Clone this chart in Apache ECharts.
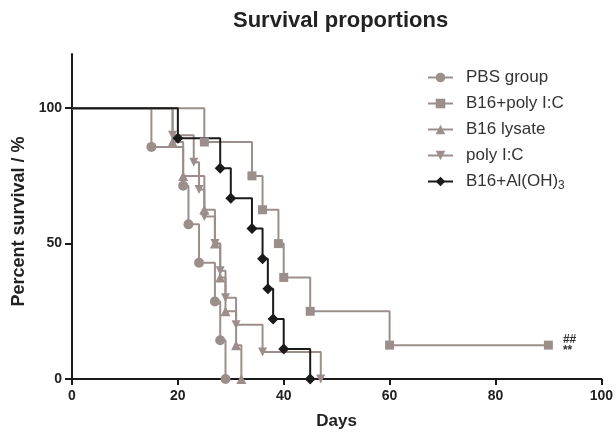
<!DOCTYPE html>
<html>
<head>
<meta charset="utf-8">
<script src="https://cdn.jsdelivr.net/npm/echarts@6/dist/echarts.min.js"></script>
<style>
html, body { margin: 0; padding: 0; background: #fff; }
#chart { width: 616px; height: 435px; }
</style>
</head>
<body>
<div id="chart"></div>
<script>
// Kaplan-Meier steps (day, % surviving)
const pbsDays = [0, 15, 21, 22, 24, 27, 28, 29];
const pbsSurvival = [100, 85.7, 71.4, 57.1, 42.9, 28.6, 14.3, 0];
const b16PolyDays = [0, 25, 34, 36, 39, 40, 45, 60, 90];
const b16PolySurvival = [100, 87.5, 75, 62.5, 50, 37.5, 25, 12.5, 12.5];
const lysateDays = [0, 19, 21, 25, 27, 28, 29, 31, 32];
const lysateSurvival = [100, 87.5, 75, 62.5, 50, 37.5, 25, 12.5, 0];
const polyDays = [0, 19, 23, 24, 25, 27, 28, 29, 31, 36, 47];
const polySurvival = [100, 90, 80, 70, 60, 50, 40, 30, 20, 10, 0];
const alumDays = [0, 20, 28, 30, 34, 36, 37, 38, 40, 45];
const alumSurvival = [100, 88.9, 77.8, 66.7, 55.6, 44.4, 33.3, 22.2, 11.1, 0];

const groupNames = ['PBS group', 'B16+poly I:C', 'B16 lysate', 'poly I:C', 'B16+Al(OH)3'];
const yTicks = [0, 50, 100];

const gray = '#9c8f8b';
const dark = '#1a1a1a';

function kmData(days, vals) {
    return days.map((d, i) => i === 0 ? { value: [d, vals[i]], symbol: 'none' } : [d, vals[i]]);
}

function kmSeries(name, days, vals, symbol, size, color) {
    return {
        name: name,
        type: 'line',
        step: 'end',
        data: kmData(days, vals),
        symbol: symbol,
        symbolSize: size,
        showAllSymbol: true,
        lineStyle: { color: color, width: 2 },
        itemStyle: { color: color },
        emphasis: { disabled: true }
    };
}

const b16Poly = kmSeries(groupNames[1], b16PolyDays, b16PolySurvival, 'rect', 9, gray);
// censored end point gets the significance marks
const last = b16Poly.data.length - 1;
b16Poly.data[last] = {
    value: b16Poly.data[last],
    label: {
        show: true,
        position: 'right',
        distance: 10,
        formatter: '##\n**',
        color: '#333',
        fontSize: 12,
        fontWeight: 'bold',
        lineHeight: 11
    }
};

const chart = echarts.init(document.getElementById('chart'));
chart.setOption({
    animation: false,
    title: {
        text: 'Survival proportions',
        left: 228,
        top: 5,
        textStyle: { fontFamily: 'Liberation Sans', fontSize: 22, fontWeight: 'bold', color: '#222' }
    },
    legend: {
        orient: 'vertical',
        left: 422,
        top: 64,
        itemWidth: 25,
        itemHeight: 12,
        itemGap: 9,
        data: groupNames,
        formatter: name => name === 'B16+Al(OH)3' ? 'B16+Al(OH){sub|3}' : name,
        textStyle: {
            fontFamily: 'Liberation Sans',
            fontSize: 17,
            color: '#333',
            padding: [0, 0, 0, 8],
            rich: { sub: { fontFamily: 'Liberation Sans', fontSize: 12, color: '#333', padding: [8, 0, 0, 0] } }
        }
    },
    grid: { left: 72, right: 13, top: 54, bottom: 52 },
    xAxis: {
        type: 'value',
        min: 0,
        max: 100,
        interval: 20,
        name: 'Days',
        nameLocation: 'middle',
        nameGap: 34,
        nameTextStyle: { fontFamily: 'Liberation Sans', fontSize: 17, fontWeight: 'bold', color: '#222' },
        axisLine: { lineStyle: { color: dark, width: 2 } },
        axisTick: { length: 6, lineStyle: { color: dark, width: 2 } },
        axisLabel: { margin: 10, fontFamily: 'Liberation Sans', fontSize: 14, fontWeight: 'bold', color: '#222' },
        splitLine: { show: false }
    },
    yAxis: {
        type: 'value',
        min: 0,
        max: 120,
        name: 'Percent survival / %',
        nameLocation: 'middle',
        nameGap: 44,
        nameTextStyle: { fontFamily: 'Liberation Sans', fontSize: 18, fontWeight: 'bold', color: '#222', padding: [0, 10, 0, 0] },
        axisLine: { show: true, lineStyle: { color: dark, width: 2 } },
        axisTick: { show: true, length: 7, customValues: yTicks, lineStyle: { color: dark, width: 2 } },
        axisLabel: { margin: 10, customValues: yTicks, fontFamily: 'Liberation Sans', fontSize: 14, fontWeight: 'bold', color: '#222' },
        splitLine: { show: false }
    },
    series: [
        kmSeries(groupNames[0], pbsDays, pbsSurvival, 'circle', 10, gray),
        b16Poly,
        kmSeries(groupNames[2], lysateDays, lysateSurvival, 'triangle', 10, gray),
        kmSeries(groupNames[3], polyDays, polySurvival, 'path://M0,0L2,0L1,1.7Z', 9, gray),
        kmSeries(groupNames[4], alumDays, alumSurvival, 'diamond', 11, dark)
    ]
});
</script>
</body>
</html>
